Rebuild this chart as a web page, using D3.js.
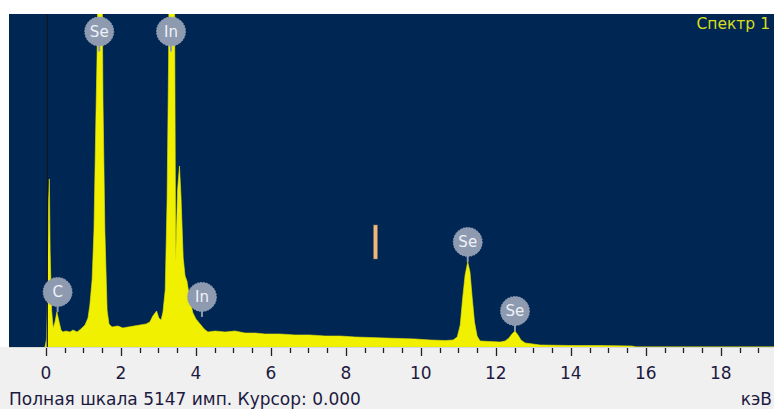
<!DOCTYPE html>
<html>
<head>
<meta charset="utf-8">
<script src="https://cdn.jsdelivr.net/npm/d3@7"></script>
<style>
  body { margin: 0; background: #f0f0f0; }
  svg { display: block; }
</style>
</head>
<body>
<svg id="chart" width="774" height="409"></svg>
<script>
// spectrum readings: energy (keV) and counts
const energy = [-0.03, 0.01, 0.04, 0.07, 0.09, 0.11, 0.15, 0.19, 0.24, 0.29, 0.35, 0.40, 0.45, 0.53, 0.64, 0.72, 0.83, 0.93,
  1.04, 1.12, 1.17, 1.23, 1.28, 1.33, 1.37, 1.43, 1.48, 1.52, 1.57, 1.63, 1.68, 1.76, 1.92, 2.05, 2.19, 2.35, 2.51, 2.67,
  2.77, 2.85, 2.95, 3.01, 3.07, 3.12, 3.18, 3.23, 3.27, 3.32, 3.39, 3.43, 3.46, 3.51, 3.56, 3.60, 3.66, 3.71, 3.76, 3.84,
  3.92, 4.00, 4.11, 4.22, 4.32, 4.51, 4.78, 5.04, 5.31, 5.58, 5.84, 6.24, 6.64, 7.04, 7.44, 7.84, 8.24, 8.64, 9.04, 9.45,
  9.85, 10.25, 10.65, 10.86, 10.97, 11.05, 11.11, 11.18, 11.25, 11.31, 11.37, 11.43, 11.50, 11.58, 11.85, 12.11, 12.25,
  12.35, 12.43, 12.51, 12.59, 12.67, 12.78, 12.99, 13.18, 13.98, 14.78, 15.63, 15.74, 19.42];
const counts = [0, 108, 727, 2273, 2597, 1500, 572, 294, 387, 541, 387, 263, 232, 247, 232, 263, 232, 278,
  340, 448, 649, 1036, 1809, 3509, 4746, 9000, 7000, 3819, 1809, 572, 356, 309, 325, 294, 309, 325, 340, 356,
  387, 479, 557, 448, 417, 541, 881, 2273, 4437, 9500, 7500, 5300, 1345, 2427, 2798, 2350, 1376, 1098, 1020, 727,
  526, 433, 356, 278, 232, 247, 232, 247, 216, 216, 201, 201, 186, 186, 170, 170, 155, 147, 139, 131,
  124, 108, 100, 108, 155, 340, 727, 1113, 1314, 1160, 758, 387, 170, 93, 85, 77, 93,
  139, 201, 247, 186, 108, 62, 46, 31, 23, 23, 15, 0, 0];

// element markers
const markNames = ["Se", "In", "C", "In", "Se", "Se"];
const markEnergy = [1.42, 3.335, 0.31, 4.16, 11.25, 12.51];
const markCounts = [9000, 9500, 541, 465, 1314, 247];

// axis
const fullScale = 5147;
const tickLabels = [0, 2, 4, 6, 8, 10, 12, 14, 16, 18];
const cursorValue = 0.000;
const roiEnergy = 8.79;
const roiCounts = [1360, 1886];
const spectrumTitle = "Спектр 1";
const unitLabel = "кэВ";

const svg = d3.select("#chart");
const W = 774, H = 409;
const plot = { left: 9, right: 774, top: 14, bottom: 347 };

svg.append("rect").attr("x", 0).attr("y", 0).attr("width", W).attr("height", plot.bottom).attr("fill", "#ffffff");
svg.append("rect")
  .attr("x", plot.left).attr("y", plot.top)
  .attr("width", plot.right - plot.left).attr("height", plot.bottom - plot.top)
  .attr("fill", "#002654");

const x = d3.scaleLinear().domain([-0.987, 19.42]).range([plot.left, plot.right]);
const y = d3.scaleLinear().domain([0, fullScale]).range([plot.bottom, plot.top]);

svg.append("clipPath").attr("id", "clip")
  .append("rect")
  .attr("x", plot.left).attr("y", plot.top)
  .attr("width", plot.right - plot.left).attr("height", plot.bottom - plot.top);

const g = svg.append("g").attr("clip-path", "url(#clip)");

const spectrum = energy.map((e, i) => ({ e: e, c: counts[i] }));

const area = d3.area()
  .x(d => x(d.e))
  .y0(y(0))
  .y1(d => y(d.c));

g.append("path")
  .datum(spectrum)
  .attr("d", area)
  .attr("fill", "#f0f000")
  .attr("stroke", "#e8e800")
  .attr("stroke-width", 0.6);

// cursor line, over the spectrum
g.append("line")
  .attr("x1", x(cursorValue) + 1.3).attr("x2", x(cursorValue) + 1.3)
  .attr("y1", plot.top).attr("y2", plot.bottom)
  .attr("stroke", "#101820").attr("stroke-width", 1.2);

// region marker
g.append("rect")
  .attr("x", x(roiEnergy) - 2).attr("y", y(roiCounts[1]))
  .attr("width", 4).attr("height", y(roiCounts[0]) - y(roiCounts[1]))
  .attr("fill", "#f2b87a").attr("stroke", "#7a6a60").attr("stroke-width", 0.5);

// element labels
const marks = markNames.map((n, i) => ({ n: n, e: markEnergy[i], c: markCounts[i] }));
const peakY = d => y(Math.min(d.c, fullScale));
const labelY = d => Math.max(peakY(d) - 20, 31.5);

const mg = svg.append("g").selectAll("g").data(marks).enter().append("g")
  .attr("transform", d => `translate(${x(d.e)},${labelY(d)})`);

mg.append("line")
  .attr("x1", 0).attr("x2", 0).attr("y1", 0)
  .attr("y2", d => Math.max(peakY(d) - labelY(d), 20))
  .attr("stroke", "#8e9ab0").attr("stroke-width", 2);

mg.append("circle")
  .attr("r", 14.5)
  .attr("fill", "#8e9ab0")
  .attr("stroke", "#9aa5b8").attr("stroke-width", 1).attr("stroke-dasharray", "1.5,1.5");

mg.append("text")
  .attr("text-anchor", "middle")
  .attr("dy", "0.36em")
  .attr("font-family", "DejaVu Sans, sans-serif")
  .attr("font-size", "15px")
  .attr("fill", "#eef2f8")
  .text(d => d.n);

svg.append("text")
  .attr("x", 770).attr("y", 29)
  .attr("text-anchor", "end")
  .attr("font-family", "DejaVu Sans, sans-serif")
  .attr("font-size", "15.5px")
  .attr("fill", "#d8de1c")
  .text(spectrumTitle);

// axis
const minor = d3.range(0, 19.01, 0.5);
const axisG = svg.append("g");
axisG.append("line")
  .attr("x1", plot.left).attr("x2", plot.right)
  .attr("y1", plot.bottom + 0.5).attr("y2", plot.bottom + 0.5)
  .attr("stroke", "#d8d8d8");
axisG.selectAll("line.tick").data(minor).enter().append("line")
  .attr("class", "tick")
  .attr("x1", d => Math.round(x(d)) + 0.5).attr("x2", d => Math.round(x(d)) + 0.5)
  .attr("y1", plot.bottom + 1)
  .attr("y2", d => plot.bottom + (d % 2 === 0 ? 9 : 6))
  .attr("stroke", "#202028").attr("stroke-width", 1.3);

axisG.selectAll("text.lab").data(tickLabels).enter().append("text")
  .attr("class", "lab")
  .attr("x", d => x(d)).attr("y", 379)
  .attr("text-anchor", "middle")
  .attr("font-family", "DejaVu Sans, sans-serif")
  .attr("font-size", "17px")
  .attr("fill", "#1c1a40")
  .text(d => d);

svg.append("text")
  .attr("x", 9).attr("y", 405)
  .attr("font-family", "DejaVu Sans, sans-serif")
  .attr("font-size", "17px")
  .attr("fill", "#1c1a40")
  .text(`Полная шкала ${fullScale} имп. Курсор: ${cursorValue.toFixed(3)}`);

svg.append("text")
  .attr("x", 772).attr("y", 405)
  .attr("text-anchor", "end")
  .attr("font-family", "DejaVu Sans, sans-serif")
  .attr("font-size", "17px")
  .attr("fill", "#1c1a40")
  .text(unitLabel);
</script>
</body>
</html>
